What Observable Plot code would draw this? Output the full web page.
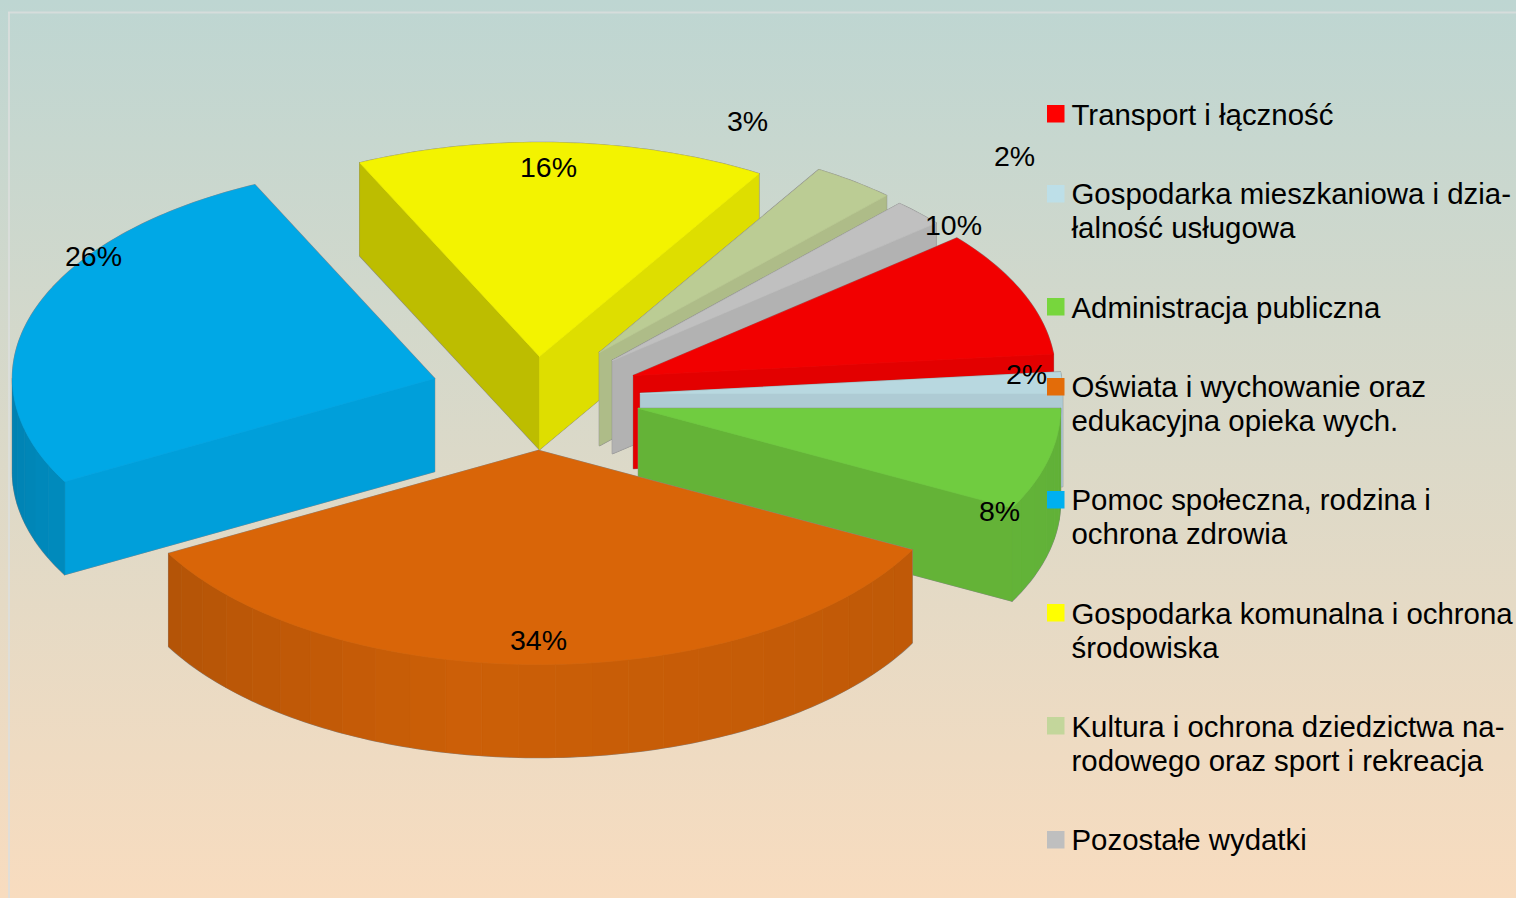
<!DOCTYPE html>
<html>
<head>
<meta charset="utf-8">
<script src="https://cdn.jsdelivr.net/npm/d3@7"></script>
<script src="https://cdn.jsdelivr.net/npm/@observablehq/plot@0.6"></script>
<style>html,body{margin:0;padding:0;overflow:hidden}svg{display:block}</style>
</head>
<body>
<script>
// --- data, in legend order ---
const categories = [
  "Transport i łączność",
  "Gospodarka mieszkaniowa i dzia-\nłalność usługowa",
  "Administracja publiczna",
  "Oświata i wychowanie oraz\nedukacyjna opieka wych.",
  "Pomoc społeczna, rodzina i\nochrona zdrowia",
  "Gospodarka komunalna i ochrona\nśrodowiska",
  "Kultura i ochrona dziedzictwa na-\nrodowego oraz sport i rekreacja",
  "Pozostałe wydatki"
];
const shares = [9.5, 1.6, 7.7, 34.3, 26, 15.7, 3.2, 2.0];
const legendColors = ["#ff0000", "#bddfe8", "#77d63d", "#e36c09", "#00b0f0", "#ffff00", "#c3d69b", "#bfbfbf"];
const topColors = ["#f20000", "#b8d8e0", "#70cc40", "#d96508", "#00a8e6", "#f3f300", "#bbcc94", "#c0c0c0"];
const startCutColors = ["#e30000", "#aecbd4", "#64b337", "#c25a06", "#009fda", "#bdbd00", "#aebc88", "#b2b2b2"];
const endCutColors = ["#e30000", "#aecbd4", "#64b337", "#c25a06", "#009fda", "#dede00", "#aebc88", "#b2b2b2"];

// --- layout ---
const rx = 422, ry = 214, depth = 93;
const sliceOrigin = [[633,375],[640,393],[638,408],[538,450],[434,378],[539,356],[599,352],[612,360]];
const labelAt = [[953,225],[1026,374],[999,511],[538,640],[93,256],[548,167],[747,121],[1014,156]];
const legendTop = [105,185,298,378,491,604,717,831];
const legendTextY = [114,210,307,403,516,630,743,839];
const drawOrder = [4,5,6,7,0,1,2,3];
const angleOrder = [2,3,4,5,6,7,0,1]; // clockwise from the 3 o'clock position

// --- slice angles from the shares ---
const total = d3.sum(shares);
const angles = [];
let acc = 0;
for (const i of angleOrder) {
  const t1 = acc; acc += shares[i] / total * 360;
  angles[i] = [t1, acc];
}
const rad = d => d * Math.PI / 180;
const shade = d3.scaleLinear().domain([0, 40, 100, 180]).range([0.86, 0.89, 0.94, 0.76]);

function faces(i) {
  const [ox, oy] = sliceOrigin[i], [t1, t2] = angles[i];
  const pt = t => [ox + rx * Math.cos(rad(t)), oy + ry * Math.sin(rad(t))];
  const fill = [], outline = [];
  const poly = (rows, id, color, pts) => pts.forEach(p => rows.push({id, color, x: p[0], y: p[1]}));
  const wall = (a, b) => [a, b, [b[0], b[1] + depth], [a[0], a[1] + depth], a];
  const both = (id, color, pts) => { poly(fill, id, color, pts); poly(outline, id, color, pts); };
  // radial cuts that face the viewer
  if (Math.cos(rad(t1)) < 0) both("s", startCutColors[i], wall([ox, oy], pt(t1)));
  if (Math.cos(rad(t2)) > 0) both("e", endCutColors[i], wall([ox, oy], pt(t2)));
  // rim facets, with one common outline
  const a = Math.max(t1, 0), b = Math.min(t2, 180);
  if (a < b) {
    const step = 5, upper = [], lower = [];
    for (let t = a, k = 0; t < b; t += step, k++) {
      const u = Math.min(t + step, b);
      const c = d3.rgb(topColors[i]);
      const f = shade((t + u) / 2);
      const color = d3.rgb(c.r * f, c.g * f, c.b * f).formatHex();
      const path = [];
      for (let s = t; s < u; s += 1) path.push(pt(s));
      path.push(pt(u));
      const rect = [...path, ...path.slice().reverse().map(p => [p[0], p[1] + depth]), path[0]];
      poly(fill, "r" + k, color, rect);
      path.slice(0, -1).forEach(p => { upper.push(p); lower.unshift([p[0], p[1] + depth]); });
    }
    upper.push(pt(b));
    lower.unshift([pt(b)[0], pt(b)[1] + depth]);
    poly(outline, "rim", "#000", [...upper, ...lower, upper[0]]);
  }
  // top face
  const arc = [[ox, oy]];
  for (let t = t1; t < t2; t += 1) arc.push(pt(t));
  arc.push(pt(t2), [ox, oy]);
  both("top", topColors[i], arc);
  return {fill, outline};
}

const sliceMarks = drawOrder.flatMap(i => {
  const {fill, outline} = faces(i);
  return [
    Plot.line(outline, {x: "x", y: "y", z: "id", stroke: "#8a8a8a", strokeWidth: 1.5, fill: "none"}),
    Plot.line(fill, {x: "x", y: "y", z: "id", fill: "color", stroke: "color", strokeWidth: 0.7})
  ];
});

const idx = d3.range(categories.length);
const swatch = 17.5;
const font = "'Liberation Sans', Arial, sans-serif";

const chart = Plot.plot({
  width: 1516, height: 898,
  margin: 0,
  x: {domain: [0, 1516], range: [0, 1516], axis: null},
  y: {domain: [0, 898], range: [0, 898], axis: null},
  color: {type: "identity"},
  style: {background: "linear-gradient(180deg,#bed6d2 0%,#f8dcbf 100%)", fontFamily: font},
  marks: [
    Plot.ruleX([8.5], {y1: 12, y2: 898, stroke: "#dcdfdd", strokeWidth: 2, strokeOpacity: 0.8}),
    Plot.ruleY([12], {x1: 8, x2: 1516, stroke: "#dcdfdd", strokeWidth: 2, strokeOpacity: 0.8}),
    ...sliceMarks,
    Plot.rect(idx, {x1: () => 1047, x2: () => 1047 + swatch, y1: i => legendTop[i], y2: i => legendTop[i] + swatch, fill: i => legendColors[i]}),
    Plot.text(idx, {x: () => 1071, y: i => legendTextY[i], text: i => categories[i], textAnchor: "start", lineAnchor: "middle", lineHeight: 1.155, fontSize: 29.4, fill: "#000"}),
    Plot.text(idx, {x: i => labelAt[i][0], y: i => labelAt[i][1], text: i => Math.round(shares[i]) + "%", textAnchor: "middle", lineAnchor: "middle", fontSize: 28.5, fill: "#000"})
  ]
});
document.body.appendChild(chart);
</script>
</body>
</html>
